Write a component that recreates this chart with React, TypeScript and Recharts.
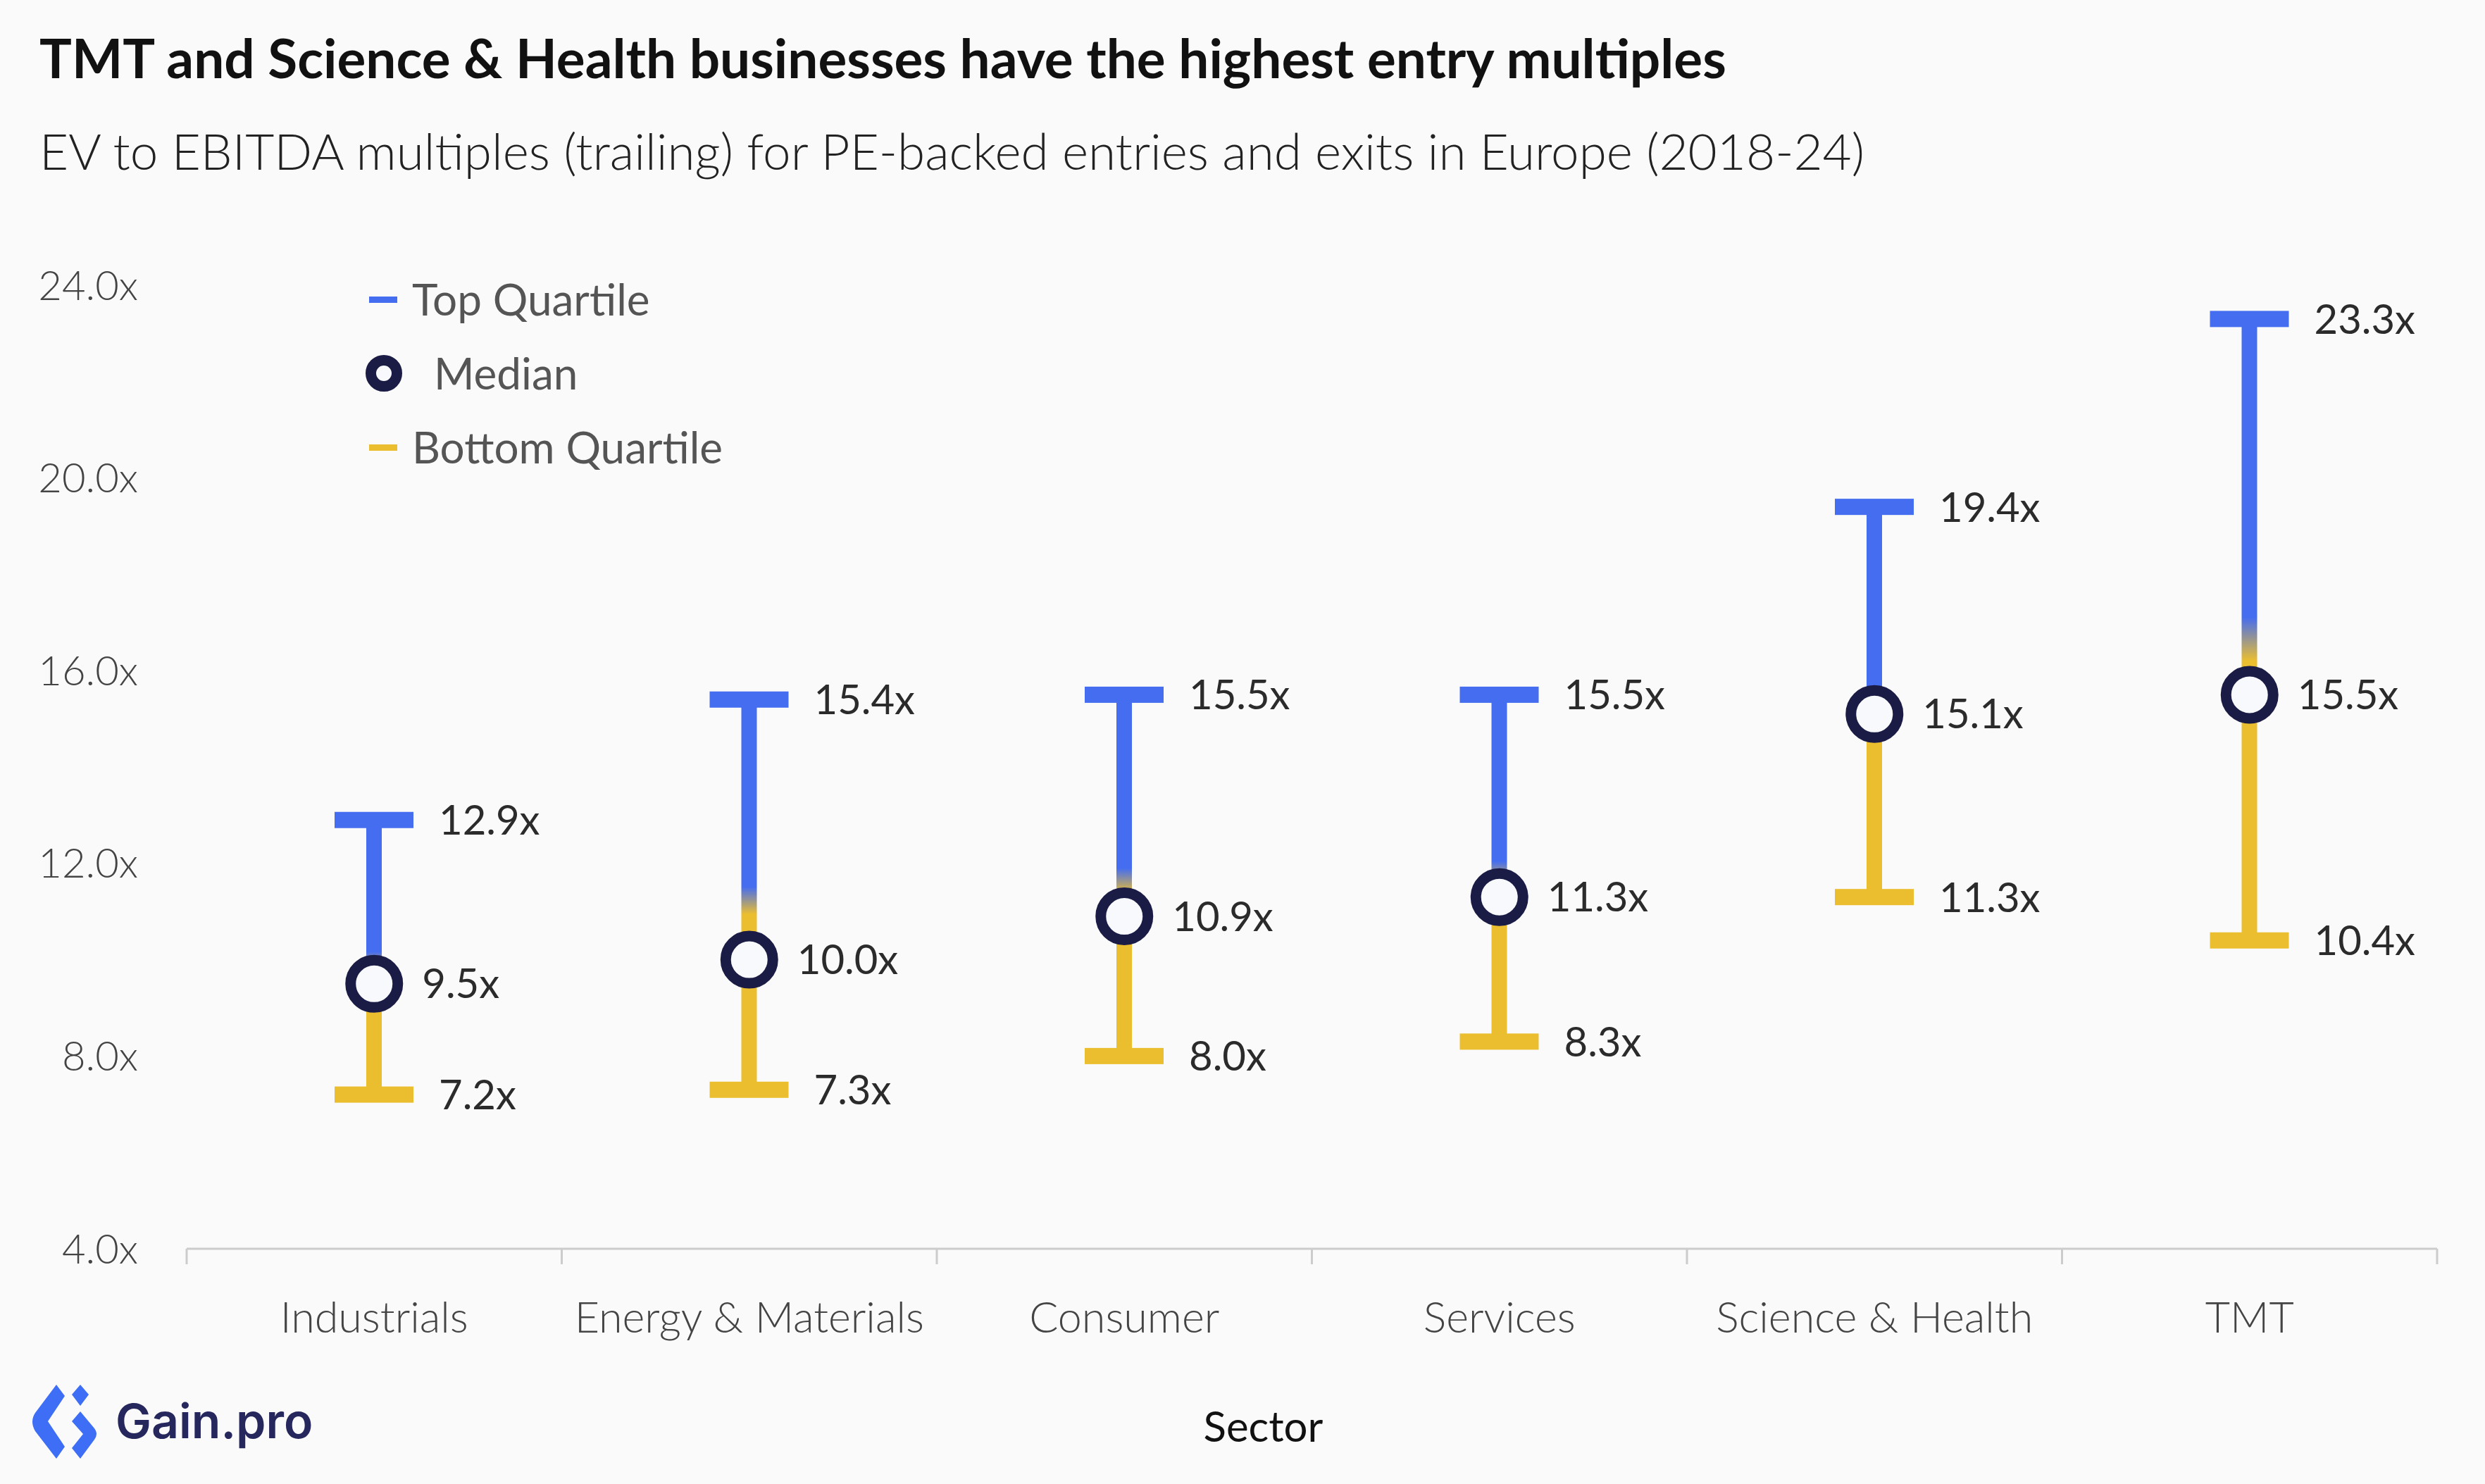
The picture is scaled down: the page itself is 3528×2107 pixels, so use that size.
import React from "react";
import { ComposedChart, Bar, Line, XAxis, YAxis, Legend, LabelList, Label } from "recharts";

// values (EV/EBITDA multiples, x)
const SECTORS = ["Industrials", "Energy & Materials", "Consumer", "Services", "Science & Health", "TMT"];
const TOP_QUARTILE = [12.9, 15.4, 15.5, 15.5, 19.4, 23.3];
const MEDIAN = [9.5, 10.0, 10.9, 11.3, 15.1, 15.5];
const BOTTOM_QUARTILE = [7.2, 7.3, 8.0, 8.3, 11.3, 10.4];
const Y_TICKS = [4, 8, 12, 16, 20, 24];
const LEGEND_ITEMS = [
  { label: "Top Quartile", kind: "top" },
  { label: "Median", kind: "median" },
  { label: "Bottom Quartile", kind: "bottom" },
];

const W = 3528;
const H = 2107;
const MARGIN = { top: 405, right: 68, bottom: 0, left: 0 };
const Y_AXIS_W = 265;
const X_AXIS_H = 334;
const PLOT_W = W - MARGIN.left - MARGIN.right - Y_AXIS_W;

const BLUE = "#456df0";
const YELLOW = "#ebbe30";
const NAVY = "#1b1c45";
const BG = "#fafafa";
const FONT = "Lato, 'Noto Sans', sans-serif";

const data = SECTORS.map((sector, i) => ({
  sector,
  top: TOP_QUARTILE[i],
  median: MEDIAN[i],
  bottom: BOTTOM_QUARTILE[i],
}));

const fmt = (v: number) => `${v.toFixed(1)}x`;

function RangeShape(props: any) {
  const { x, y, width, height, payload, index } = props;
  if (x == null || y == null) return null;
  const y1 = Math.min(y, y + height);
  const y2 = Math.max(y, y + height);
  const cx = x + width / 2;
  const id = `range-grad-${index}`;
  const labelStyle = { fontFamily: FONT, fontSize: 58, fill: "#2b2b2b" };
  return (
    <g>
      <defs>
        <linearGradient id={id} x1="0" y1="0" x2="0" y2="1">
          <stop offset="0.48" stopColor={BLUE} />
          <stop offset="0.55" stopColor={YELLOW} />
        </linearGradient>
      </defs>
      <rect x={cx - 11} y={y1} width={22} height={y2 - y1} fill={`url(#${id})`} />
      <rect x={x} y={y1 - 11.5} width={width} height={23} fill={BLUE} />
      <rect x={x} y={y2 - 11.5} width={width} height={23} fill={YELLOW} />
      <text x={x + width + 36} y={y1} dy="0.36em" {...labelStyle}>
        {fmt(payload.top)}
      </text>
      <text x={x + width + 36} y={y2} dy="0.36em" {...labelStyle}>
        {fmt(payload.bottom)}
      </text>
    </g>
  );
}

function MedianDot(props: any) {
  const { cx, cy, index } = props;
  if (cx == null || cy == null) return null;
  return <circle key={`m-${index}`} cx={cx} cy={cy} r={33.5} fill="#f7f9fc" stroke={NAVY} strokeWidth={15} />;
}

function SectorTick(props: any) {
  const { x, y, payload, index } = props;
  const half = payload && typeof payload.offset === "number" && payload.offset > 0 ? payload.offset : PLOT_W / SECTORS.length / 2;
  const last = index === SECTORS.length - 1;
  return (
    <g>
      <line x1={x - half} x2={x - half} y1={y} y2={y + 22} stroke="#cccccc" strokeWidth={3} />
      {last && <line x1={x + half} x2={x + half} y1={y} y2={y + 22} stroke="#cccccc" strokeWidth={3} />}
      <text x={x} y={y + 97} dy="0.36em" textAnchor="middle" fontFamily={FONT} fontWeight={300} fontSize={61} fill="#444">
        {payload.value}
      </text>
    </g>
  );
}

function LegendContent() {
  return (
    <div style={{ fontFamily: FONT, fontSize: 62, color: "#555", lineHeight: "105px" }}>
      {LEGEND_ITEMS.map((item) => (
        <div key={item.label} style={{ display: "flex", alignItems: "center", height: 105 }}>
          <svg width={52} height={52} style={{ flex: "none" }}>
            {item.kind === "median" ? (
              <circle cx={26} cy={26} r={18.5} fill="#f7f9fc" stroke={NAVY} strokeWidth={15} />
            ) : (
              <rect x={5} y={22} width={40} height={9} fill={item.kind === "top" ? BLUE : YELLOW} />
            )}
          </svg>
          <span style={{ marginLeft: item.kind === "median" ? 45 : 14 }}>{item.label}</span>
        </div>
      ))}
    </div>
  );
}

function GainLogo() {
  return (
    <g>
      <g transform="translate(42,1966)" fill="#3d6ef5">
        <path d="M38 0 L50 16 L26 52 L50 88 L38 105 L8 66 Q0 52 8 40 Z" />
        <path d="M72 0 L84 14 L72 30 L60 14 Z" />
        <path d="M72 38 L92 62 Q98 70 92 78 L72 105 L60 90 L76 70 L60 52 Z" />
      </g>
      <text x={164} y={2042} fontFamily="Inter, sans-serif" fontWeight={600} fontSize={68} fill="#26275c">
        Gain.pro
      </text>
    </g>
  );
}

export default function App() {
  return (
    <div style={{ position: "relative", width: W, height: H, background: BG, overflow: "hidden" }}>
      <style>{"body{margin:0}"}</style>
      <svg width={W} height={H} style={{ position: "absolute", left: 0, top: 0 }}>
        <text x={56} y={111} fontFamily={FONT} fontWeight={700} fontSize={76.5} fill="#111">
          TMT and Science &amp; Health businesses have the highest entry multiples
        </text>
        <text x={56} y={241} fontFamily={FONT} fontWeight={300} fontSize={71} fill="#222">
          EV to EBITDA multiples (trailing) for PE-backed entries and exits in Europe (2018-24)
        </text>
        <GainLogo />
      </svg>
      <div style={{ position: "absolute", left: 0, top: 0 }}>
        <ComposedChart width={W} height={H} data={data} margin={MARGIN}>
          <XAxis
            dataKey="sector"
            interval={0}
            height={X_AXIS_H}
            axisLine={{ stroke: "#cccccc", strokeWidth: 3 }}
            tickLine={false}
            tickSize={0}
            tickMargin={0}
            tick={<SectorTick />}
          >
            <Label
              value="Sector"
              position="insideBottom"
              offset={60}
              dx={-69}
              style={{ fontFamily: FONT, fontSize: 60, fill: "#111" }}
            />
          </XAxis>
          <YAxis
            type="number"
            domain={[4, 24]}
            ticks={Y_TICKS}
            width={Y_AXIS_W}
            axisLine={false}
            tickLine={false}
            tickSize={0}
            tickMargin={69}
            tickFormatter={fmt}
            tick={{ fontFamily: FONT, fontWeight: 300, fontSize: 58, fill: "#444" }}
          />
          <Legend
            layout="vertical"
            align="center"
            verticalAlign="middle"
            content={<LegendContent />}
            wrapperStyle={{ left: 519, top: 372, width: "auto" }}
          />
          <Bar
            name="Interquartile range"
            dataKey={(d: any) => [d.bottom, d.top]}
            barSize={112}
            shape={<RangeShape />}
            isAnimationActive={false}
            legendType="none"
          />
          <Line
            name="Median"
            dataKey="median"
            stroke="none"
            dot={<MedianDot />}
            activeDot={false}
            isAnimationActive={false}
            legendType="none"
          >
            <LabelList
              dataKey="median"
              position="right"
              offset={68}
              formatter={(v: any) => fmt(Number(v))}
              style={{ fontFamily: FONT, fontSize: 58, fill: "#2b2b2b" }}
            />
          </Line>
        </ComposedChart>
      </div>
    </div>
  );
}
